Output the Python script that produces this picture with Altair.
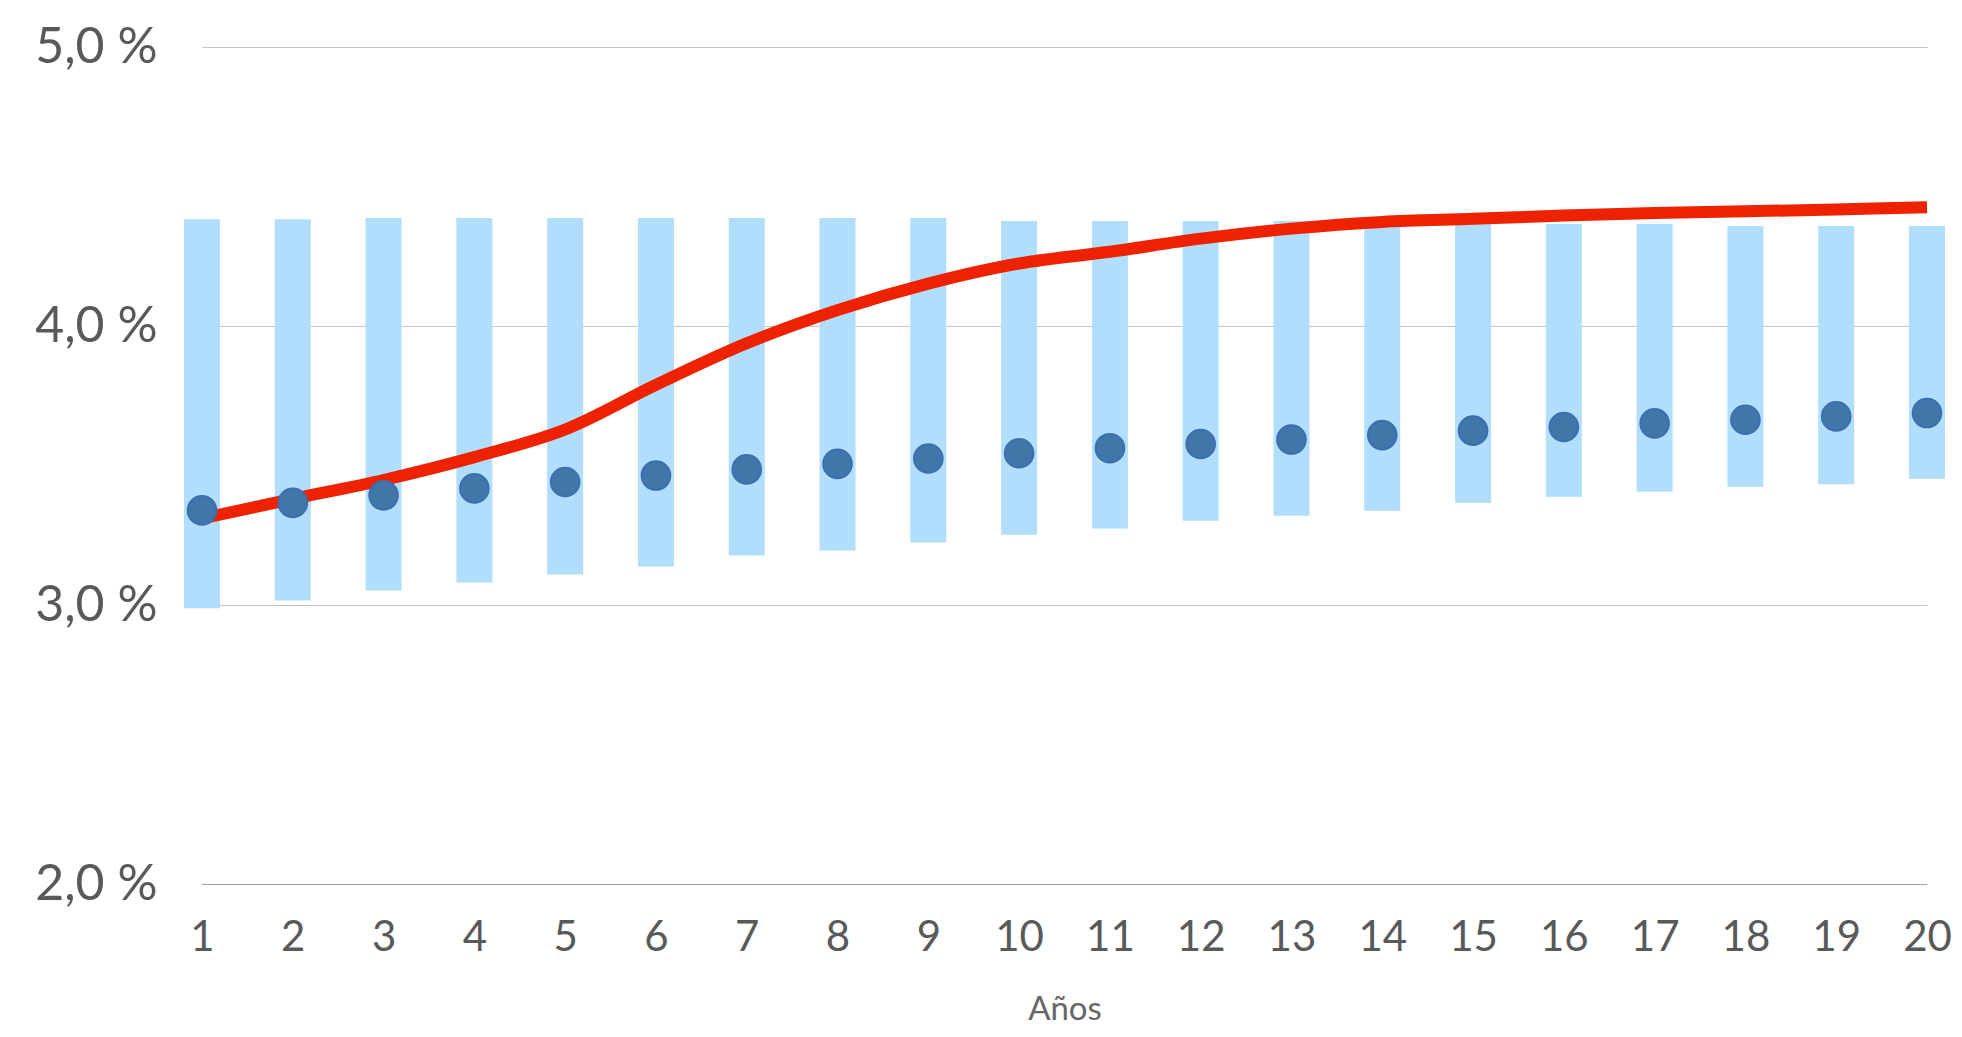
import altair as alt
import pandas as pd

years = list(range(1, 21))
lower = [2.988, 3.016, 3.052, 3.081, 3.109, 3.138, 3.177, 3.195, 3.224, 3.252,
         3.274, 3.302, 3.320, 3.338, 3.366, 3.388, 3.406, 3.424, 3.433, 3.452]
upper = [4.383, 4.383, 4.387, 4.387, 4.387, 4.387, 4.387, 4.387, 4.387, 4.376,
         4.376, 4.376, 4.376, 4.370, 4.366, 4.366, 4.366, 4.358, 4.358, 4.358]
median = [3.339, 3.366, 3.393, 3.418, 3.441, 3.464, 3.486, 3.506, 3.525, 3.544,
          3.562, 3.577, 3.593, 3.609, 3.625, 3.638, 3.651, 3.664, 3.676, 3.688]
forward = [3.310, 3.380, 3.448, 3.530, 3.629, 3.789, 3.938, 4.057, 4.152, 4.224,
           4.266, 4.313, 4.349, 4.373, 4.384, 4.396, 4.405, 4.411, 4.418, 4.426]

df = pd.DataFrame({"year": years, "lower": lower, "upper": upper,
                   "median": median, "forward": forward})

FONT = "Lato"

x = alt.X("year:Q", scale=alt.Scale(domain=[1, 20], nice=False, zero=False, padding=0),
          axis=alt.Axis(values=years, format="d", title="Años", grid=False,
                        ticks=False, domain=True, domainColor="#8c8c8c",
                        domainDash=[2, 1], domainWidth=1,
                        labelFont=FONT, labelFontSize=42, labelColor="#595959",
                        labelPadding=33, labelFlush=False,
                        titleFont=FONT, titleFontSize=33, titleFontWeight="normal",
                        titleColor="#666666", titlePadding=35))

yscale = alt.Scale(domain=[2, 5], nice=False, zero=False)
yaxis = alt.Axis(values=[2, 3, 4, 5], title=None, grid=True, gridColor="#c4c4c4",
                 gridWidth=1, ticks=False, domain=False,
                 labelExpr="replace(format(datum.value, '.1f'), '.', ',') + ' %'",
                 labelFont=FONT, labelFontSize=50, labelColor="#595959",
                 labelPadding=45)

bars = alt.Chart(df).mark_bar(size=36, color="#b1defc").encode(
    x=x,
    y=alt.Y("lower:Q", scale=yscale, axis=yaxis),
    y2="upper:Q",
)

line = alt.Chart(df).mark_line(color="#ee2200", strokeWidth=12,
                               interpolate="catmull-rom").encode(
    x="year:Q",
    y="forward:Q",
)

dots = alt.Chart(df).mark_point(filled=True, size=820, opacity=1,
                                fill="#4275a8", stroke="#3a70b0",
                                strokeWidth=2).encode(
    x="year:Q",
    y="median:Q",
)

chart = alt.layer(bars, line, dots).properties(
    width=1725, height=837,
    autosize=alt.AutoSizeParams(type="none"),
    padding={"left": 194, "top": 39, "right": 25, "bottom": 142},
).configure_view(stroke=None)

chart.save("out.html", embed_options={"renderer": "svg", "actions": False})
